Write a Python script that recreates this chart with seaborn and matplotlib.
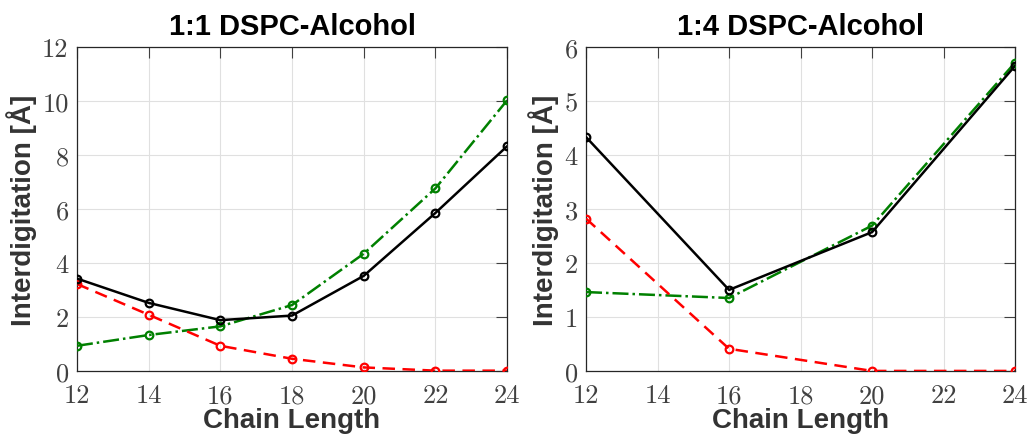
import pandas as pd
import matplotlib.pyplot as plt
import seaborn as sns

# Interdigitation vs alcohol chain length, two DSPC:alcohol ratios

# 1:1 DSPC-Alcohol
chain_11 = [12, 14, 16, 18, 20, 22, 24]
total_11 = [3.42, 2.52, 1.88, 2.05, 3.52, 5.85, 8.32]
red_11 = [3.22, 2.08, 0.93, 0.45, 0.13, 0.01, 0.01]
green_11 = [0.93, 1.33, 1.65, 2.44, 4.34, 6.76, 10.02]

# 1:4 DSPC-Alcohol
chain_14 = [12, 16, 20, 24]
total_14 = [4.33, 1.5, 2.57, 5.65]
red_14 = [2.82, 0.41, 0.0, 0.0]
green_14 = [1.46, 1.35, 2.69, 5.71]

xticks = [12, 14, 16, 18, 20, 22, 24]
yticks_11 = [0, 2, 4, 6, 8, 10, 12]
yticks_14 = [0, 1, 2, 3, 4, 5, 6]

titles = ['1:1 DSPC-Alcohol', '1:4 DSPC-Alcohol']

sns.set_style("whitegrid")
plt.rcParams['font.family'] = ['cmr10']
plt.rcParams['axes.formatter.use_mathtext'] = True

fig = plt.figure(figsize=(10.29, 4.35), dpi=100)
ax1 = fig.add_axes([0.0748, 0.145, 0.418, 0.745])
ax2 = fig.add_axes([0.5695, 0.145, 0.417, 0.745])

panels = [
    (ax1, chain_11, total_11, red_11, green_11, yticks_11),
    (ax2, chain_14, total_14, red_14, green_14, yticks_14),
]

for i, (ax, x, tot, red, grn, yt) in enumerate(panels):
    df = pd.DataFrame({'chain': x, 'total': tot, 'red': red, 'green': grn})
    sns.lineplot(data=df, x='chain', y='green', ax=ax, color='#008000',
                 linestyle='-.', lw=1.8, marker='o', ms=5.5, mfc='none',
                 mec='#008000', mew=1.6, zorder=3)
    sns.lineplot(data=df, x='chain', y='red', ax=ax, color='#ff0000',
                 linestyle=(0, (5, 3)), lw=1.8, marker='o', ms=5.5, mfc='none',
                 mec='#ff0000', mew=1.6, zorder=3)
    sns.lineplot(data=df, x='chain', y='total', ax=ax, color='black',
                 linestyle='-', lw=1.8, marker='o', ms=5.5, mfc='none',
                 mec='black', mew=1.6, zorder=4)

    ax.set_xlim(12, 24)
    ax.set_ylim(yt[0], yt[-1])
    ax.set_xticks(xticks)
    ax.set_xticklabels([str(t) for t in xticks])
    ax.set_yticks(yt)
    ax.set_yticklabels([str(t) for t in yt])
    ax.tick_params(direction='in', length=8, width=0.8, top=True, right=True,
                   labelsize=19, colors='#404040')
    ax.tick_params(axis='x', pad=9)
    ax.tick_params(axis='y', pad=6)
    ax.grid(True, color='#e0e0e0', lw=0.8)
    for s in ax.spines.values():
        s.set_color('#262626')
        s.set_linewidth(0.9)
    ax.set_title(titles[i], family='Liberation Sans', fontweight='bold',
                 fontsize=21, color='black', pad=9)
    ax.set_xlabel('Chain Length', family='Liberation Sans', fontweight='bold',
                  fontsize=20, color='#333333', labelpad=0)
    ax.set_ylabel('Interdigitation [Å]', family='Liberation Sans',
                  fontweight='bold', fontsize=20, color='#333333', labelpad=4)

fig.savefig('out.png', dpi=100)
